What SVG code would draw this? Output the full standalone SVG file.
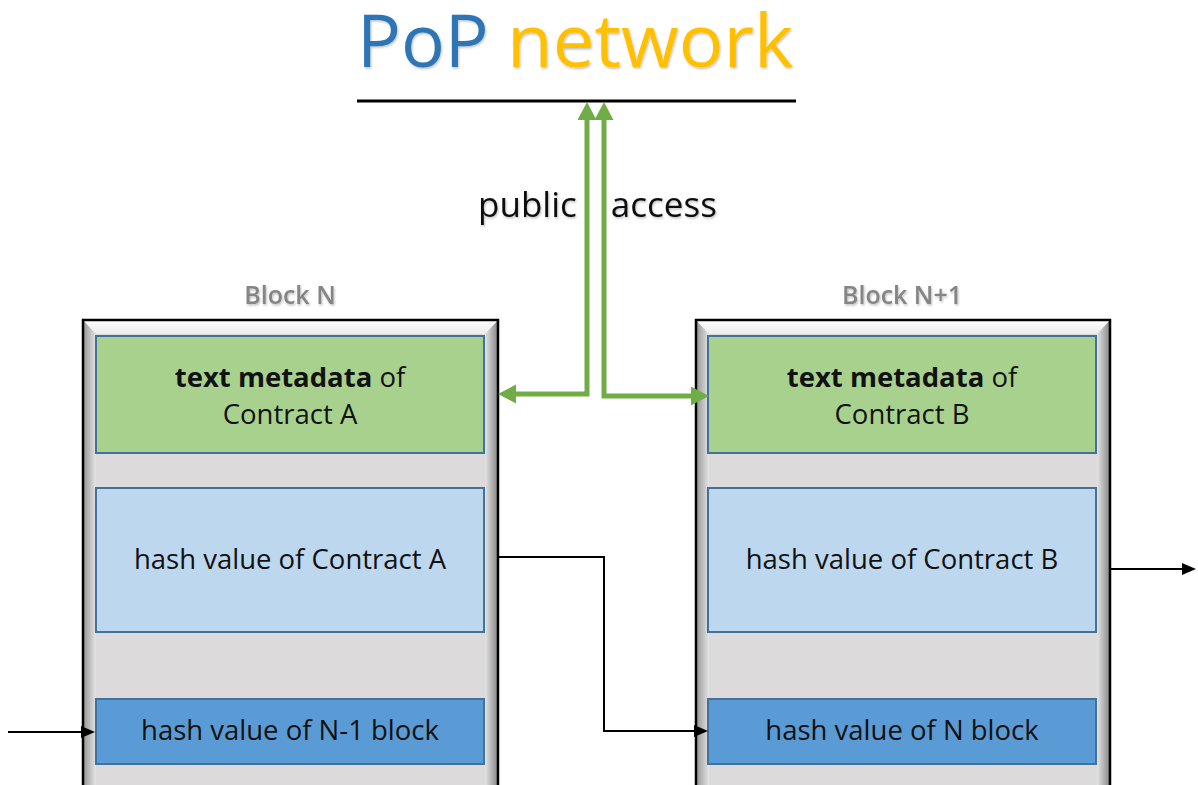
<svg xmlns="http://www.w3.org/2000/svg" width="1198" height="785" viewBox="0 0 1198 785">
<style>
  text { font-family: "Open Sans", "Liberation Sans", sans-serif; }
  .body { font-size: 27.5px; fill: #111; text-anchor: middle; }
  .lbl { font-size: 25px; font-weight: 600; fill: #858585; text-anchor: middle; }
  .green { fill: #A9D18E; stroke: #41719C; stroke-width: 2; }
  .lblue { fill: #BDD7EE; stroke: #41719C; stroke-width: 2; }
  .dblue { fill: #5B9BD5; stroke: #41719C; stroke-width: 2; }
  .face { fill: #DCDADB; }
  .frame { fill: none; stroke: #000; stroke-width: 2.5; }
  .garrow { fill: none; stroke: #70AD47; stroke-width: 5; marker-start: url(#gm); marker-end: url(#gm); }
  .barrow { fill: none; stroke: #000; stroke-width: 2; marker-end: url(#bm); }
</style>
<defs>
  <linearGradient id="gl" x1="0" y1="0" x2="1" y2="0">
    <stop offset="0" stop-color="#949494"/><stop offset="1" stop-color="#e4e4e4"/>
  </linearGradient>
  <linearGradient id="gr" x1="0" y1="0" x2="1" y2="0">
    <stop offset="0" stop-color="#e4e4e4"/><stop offset="1" stop-color="#858585"/>
  </linearGradient>
  <linearGradient id="gt" x1="0" y1="0" x2="0" y2="1">
    <stop offset="0" stop-color="#ffffff"/><stop offset="1" stop-color="#ececec"/>
  </linearGradient>
  <marker id="gm" markerUnits="userSpaceOnUse" markerWidth="20" markerHeight="20" refX="1" refY="9.5" orient="auto-start-reverse">
    <path d="M0,0 L18,9.5 L0,19 z" fill="#70AD47"/>
  </marker>
  <marker id="bm" markerUnits="userSpaceOnUse" markerWidth="16" markerHeight="14" refX="1" refY="6" orient="auto">
    <path d="M0,0 L14,6 L0,12 z" fill="#000"/>
  </marker>
  <filter id="sh" x="-10%" y="-20%" width="120%" height="150%">
    <feDropShadow dx="1" dy="1.5" stdDeviation="1" flood-color="#000" flood-opacity="0.25"/>
  </filter>
</defs>
<rect width="1198" height="785" fill="#fff"/>

<g id="title">
  <text x="357" y="67" font-size="73" filter="url(#sh)"><tspan fill="#2E75B6">PoP </tspan><tspan x="507" fill="#FFC000" textLength="286" lengthAdjust="spacingAndGlyphs">network</tspan></text>
  <line x1="357" y1="101" x2="796" y2="101" stroke="#000" stroke-width="3"/>
</g>

<g id="public-access">
  <text x="478" y="217" font-size="35" fill="#111" word-spacing="25" filter="url(#sh)">public access</text>
</g>

<g id="block-n">
  <text class="lbl" x="290" y="304" filter="url(#sh)">Block N</text>
  <rect class="face" x="83" y="320" width="415" height="480"/>
  <polygon points="83,320 96,334 96,800 83,800" fill="url(#gl)"/>
  <polygon points="498,320 485,334 485,800 498,800" fill="url(#gr)"/>
  <polygon points="83,320 498,320 485,334 96,334" fill="url(#gt)"/>
  <rect class="frame" x="83" y="320" width="415" height="480"/>
  <g id="meta-a">
    <rect class="green" x="96" y="336" width="388" height="117"/>
    <text class="body" x="290" y="387"><tspan font-weight="700">text metadata</tspan> of</text>
    <text class="body" x="290" y="424">Contract A</text>
  </g>
  <g id="hash-a">
    <rect class="lblue" x="96" y="488" width="388" height="144"/>
    <text class="body" x="290" y="569">hash value of Contract A</text>
  </g>
  <g id="prev-a">
    <rect class="dblue" x="96" y="699" width="388" height="65"/>
    <text class="body" x="290" y="740">hash value of N-1 block</text>
  </g>
</g>

<g id="block-n1">
  <text class="lbl" x="902" y="304" filter="url(#sh)">Block N+1</text>
  <rect class="face" x="696" y="320" width="414" height="480"/>
  <polygon points="696,320 709,334 709,800 696,800" fill="url(#gl)"/>
  <polygon points="1110,320 1097,334 1097,800 1110,800" fill="url(#gr)"/>
  <polygon points="696,320 1110,320 1097,334 709,334" fill="url(#gt)"/>
  <rect class="frame" x="696" y="320" width="414" height="480"/>
  <g id="meta-b">
    <rect class="green" x="708" y="336" width="388" height="117"/>
    <text class="body" x="902" y="387"><tspan font-weight="700">text metadata</tspan> of</text>
    <text class="body" x="902" y="424">Contract B</text>
  </g>
  <g id="hash-b">
    <rect class="lblue" x="708" y="488" width="388" height="144"/>
    <text class="body" x="902" y="569">hash value of Contract B</text>
  </g>
  <g id="prev-b">
    <rect class="dblue" x="708" y="699" width="388" height="65"/>
    <text class="body" x="902" y="740">hash value of N block</text>
  </g>
</g>

<g id="connectors">
  <path class="garrow" d="M587,119 V394 H515"/>
  <path class="garrow" d="M604,119 V396 H692"/>
  <path class="barrow" d="M8,732 H82"/>
  <path class="barrow" d="M498,557 H604 V731 H695"/>
  <path class="barrow" d="M1110,569 H1183"/>
</g>
</svg>
